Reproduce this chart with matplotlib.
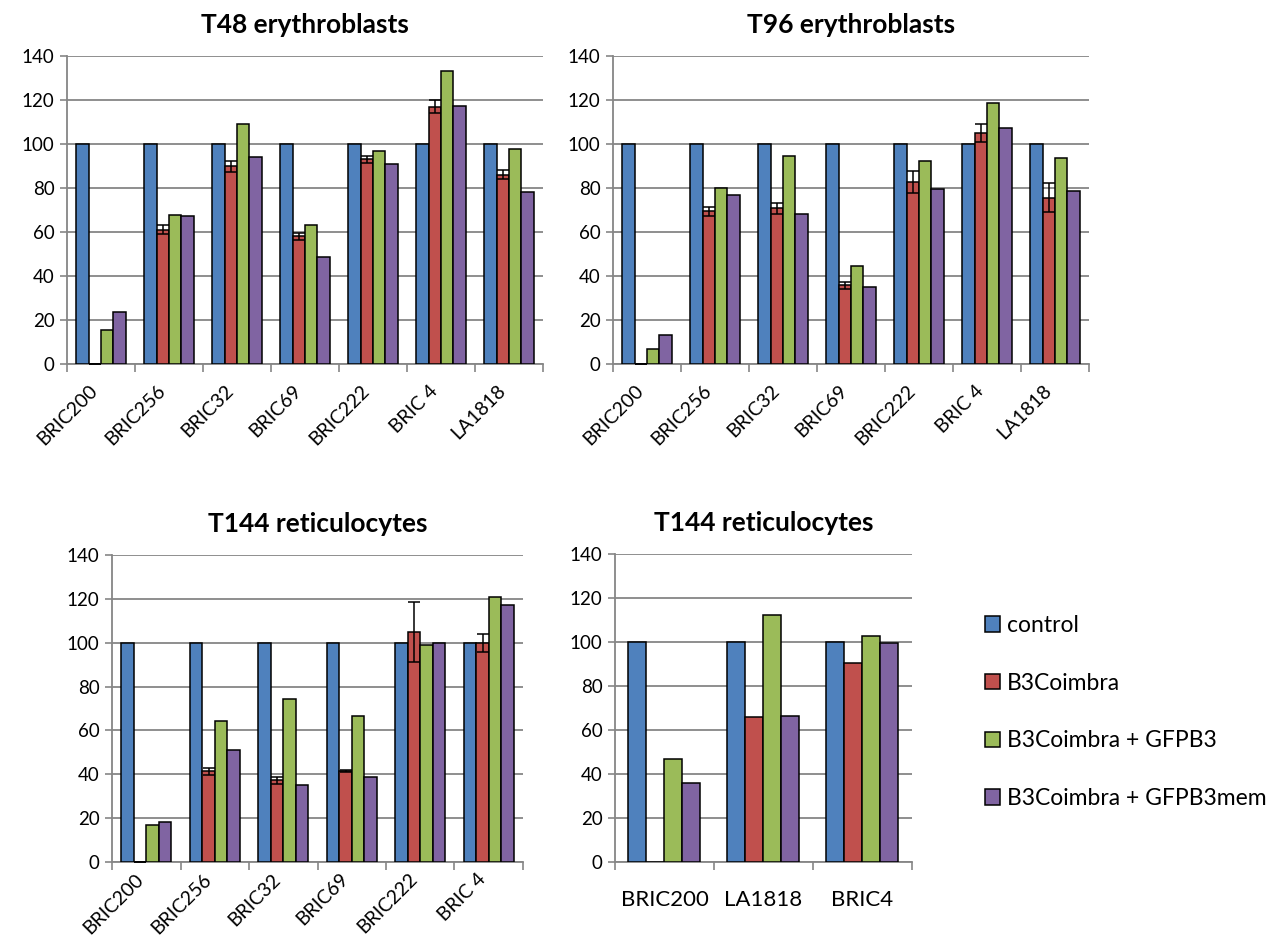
import matplotlib
matplotlib.use("Agg")
import matplotlib.pyplot as plt
import numpy as np

# series names and colours (excel defaults)
series = ["control", "B3Coimbra", "B3Coimbra + GFPB3", "B3Coimbra + GFPB3mem"]
colors = ["#4F81BD", "#C0504D", "#9BBB59", "#8064A2"]

# T48 erythroblasts
t48_labels = ["BRIC200", "BRIC256", "BRIC32", "BRIC69", "BRIC222", "BRIC 4", "LA1818"]
t48_control = [100, 100, 100, 100, 100, 100, 100]
t48_coimbra = [0, 61, 90, 58, 93, 117, 86]
t48_gfpb3 = [15.3, 67.7, 109.2, 63.3, 96.8, 133, 97.6]
t48_gfpb3mem = [23.8, 67.1, 94.2, 48.5, 91, 117.4, 78.2]
t48_err = [0, 2, 2.5, 1.5, 1.5, 3, 2]

# T96 erythroblasts
t96_labels = ["BRIC200", "BRIC256", "BRIC32", "BRIC69", "BRIC222", "BRIC 4", "LA1818"]
t96_control = [100, 100, 100, 100, 100, 100, 100]
t96_coimbra = [0, 69.5, 70.8, 35.8, 82.8, 104.9, 75.6]
t96_gfpb3 = [7, 80.2, 94.7, 44.4, 92.3, 118.8, 93.5]
t96_gfpb3mem = [13.4, 76.9, 68.3, 34.8, 79.5, 107.5, 78.5]
t96_err = [0, 2, 2.5, 1.5, 5, 4, 6.5]

# T144 reticulocytes (left)
t144_labels = ["BRIC200", "BRIC256", "BRIC32", "BRIC69", "BRIC222", "BRIC 4"]
t144_control = [100, 100, 100, 100, 100, 100]
t144_coimbra = [0, 41.4, 37.3, 41.4, 104.8, 100]
t144_gfpb3 = [17.1, 64.3, 74.2, 66.4, 98.9, 120.7]
t144_gfpb3mem = [18.3, 50.9, 35, 38.8, 100, 117.2]
t144_err = [0, 1.5, 1.5, 0.5, 13.8, 4]

# T144 reticulocytes (right)
t144b_labels = ["BRIC200", "LA1818", "BRIC4"]
t144b_control = [100, 100, 100]
t144b_coimbra = [0, 65.8, 90.5]
t144b_gfpb3 = [46.9, 112.4, 102.9]
t144b_gfpb3mem = [36, 66.4, 99.6]

FONT = "Lato"
GRID = "#868686"

fig = plt.figure(figsize=(12.79, 9.38), dpi=100)


def draw_panel(rect, title, labels, vals, err=None, rotate=True, xfont=14, xpad=12):
    ax = fig.add_axes(rect)
    x = np.arange(len(labels))
    w = 1 / 5.5
    for k in range(4):
        pos = x + (k - 1.5) * w
        ax.bar(pos, vals[k], width=w, color=colors[k], edgecolor="black",
               linewidth=1.1, zorder=3, label=series[k])
        if k == 1 and err is not None:
            ax.errorbar(pos, vals[k], yerr=err, fmt="none", ecolor="black",
                        elinewidth=1.1, capsize=4.5, capthick=1.1, zorder=4)
    ax.set_xlim(-0.5, len(labels) - 0.5)
    ax.set_ylim(0, 140)
    ax.set_yticks(np.arange(0, 141, 20))
    ax.yaxis.grid(True, color=GRID, linewidth=1.3, zorder=0)
    for s in ["top", "right"]:
        ax.spines[s].set_visible(False)
    for s in ["left", "bottom"]:
        ax.spines[s].set_color(GRID)
        ax.spines[s].set_linewidth(1.3)
    ax.tick_params(axis="y", direction="out", length=5, width=1.2, color=GRID,
                   labelsize=13.5, pad=4)
    for t in ax.get_yticklabels():
        t.set_fontfamily(FONT)
    ax.set_xticks(x)
    ax.set_xticks(np.arange(len(labels) + 1) - 0.5, minor=True)
    ax.tick_params(axis="x", which="major", length=0, pad=xpad)
    ax.tick_params(axis="x", which="minor", direction="out", length=6, width=1.2, color=GRID)
    if rotate:
        ax.set_xticklabels(labels, rotation=45, ha="right", va="top",
                           fontsize=xfont, fontfamily=FONT)
    else:
        ax.set_xticklabels(labels, fontsize=xfont, fontfamily=FONT)
    ax.text(0.5, 1.1, title, transform=ax.transAxes, ha="center", va="center",
            fontsize=19, fontweight="bold", fontfamily=FONT)
    return ax


draw_panel([0.0524, 0.6119, 0.3722, 0.3284], "T48 erythroblasts", t48_labels,
           [t48_control, t48_coimbra, t48_gfpb3, t48_gfpb3mem], t48_err, xpad=13)
draw_panel([0.4793, 0.6119, 0.3722, 0.3284], "T96 erythroblasts", t96_labels,
           [t96_control, t96_coimbra, t96_gfpb3, t96_gfpb3mem], t96_err, xpad=13)
draw_panel([0.0876, 0.0810, 0.3213, 0.3273], "T144 reticulocytes", t144_labels,
           [t144_control, t144_coimbra, t144_gfpb3, t144_gfpb3mem], t144_err, xpad=6)
ax4 = draw_panel([0.4808, 0.0810, 0.2322, 0.3284], "T144 reticulocytes", t144b_labels,
                 [t144b_control, t144b_coimbra, t144b_gfpb3, t144b_gfpb3mem],
                 rotate=False, xfont=16, xpad=20)

handles, names = ax4.get_legend_handles_labels()
fig.legend(handles, names, loc="upper left", bbox_to_anchor=(985 / 1279, 1 - 615 / 938),
           frameon=False, prop={"family": FONT, "size": 16.5}, handlelength=0.65,
           handleheight=0.65, handletextpad=0.3, labelspacing=1.6, borderpad=0,
           borderaxespad=0)

fig.savefig("out.png", dpi=100)
